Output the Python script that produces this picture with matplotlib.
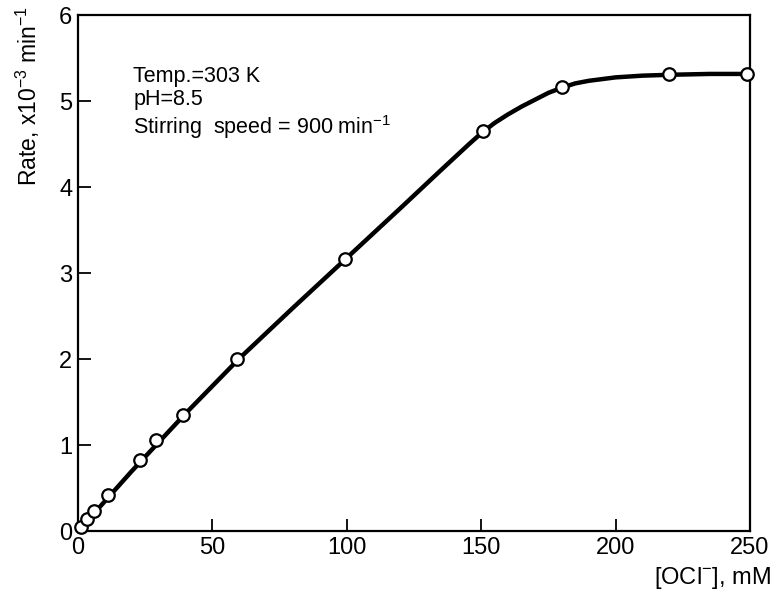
import matplotlib.pyplot as plt

plt.rcParams['font.family'] = ['Liberation Sans', 'DejaVu Sans']
plt.rcParams['mathtext.fontset'] = 'custom'
plt.rcParams['mathtext.rm'] = 'Liberation Sans'

# measured points
conc = [1, 3.5, 6, 11, 23, 29, 39, 59, 99.5, 150.5, 180, 220, 249]
rate = [0.05, 0.14, 0.24, 0.42, 0.83, 1.06, 1.35, 2.0, 3.17, 4.66, 5.17, 5.32, 5.32]

# drawn smooth curve
curve_x = [0, 20, 40, 60, 80, 100, 120, 135, 145, 150, 155, 160, 165, 170, 175,
           180, 185, 190, 200, 210, 220, 235, 250]
curve_y = [0, 0.70, 1.37, 2.01, 2.60, 3.18, 3.76, 4.20, 4.49, 4.63, 4.75, 4.85,
           4.94, 5.02, 5.10, 5.16, 5.21, 5.24, 5.28, 5.30, 5.31, 5.32, 5.32]

fig = plt.figure(figsize=(7.76, 5.95), dpi=100)
ax = fig.add_axes([0.1005, 0.107, 0.866, 0.867])

ax.plot(curve_x, curve_y, color="black", linewidth=3.2, solid_capstyle="butt",
        zorder=2)
ax.plot(conc, rate, linestyle="none", marker="o", markersize=9,
        markerfacecolor="white", markeredgecolor="black", markeredgewidth=1.6,
        zorder=3, clip_on=False)

ax.set_xlim(0, 250)
ax.set_ylim(0, 6)
ax.set_xticks([0, 50, 100, 150, 200, 250])
ax.set_yticks([0, 1, 2, 3, 4, 5, 6])
ax.tick_params(direction="in", length=9, width=1.3, labelsize=17, pad=4,
               top=False, right=False)
for s in ax.spines.values():
    s.set_linewidth(1.6)

ax.set_xlabel("[OCl$^{-}$], mM", fontsize=17)
ax.xaxis.set_label_coords(1.031, -0.065)
ax.xaxis.label.set_horizontalalignment("right")

# y label sits at the top-left, above the tick labels
fig.text(28 / 776, 1 - 6 / 595, "Rate, x10$^{-3}$ min$^{-1}$", fontsize=16.5,
         rotation=90, ha="center", va="top")

ax.text(0.082, 0.903, "Temp.=303 K\npH=8.5\nStirring  speed = 900 min$^{-1}$",
        transform=ax.transAxes, fontsize=15.5, va="top", ha="left",
        linespacing=1.15)

plt.savefig("out.png", dpi=100)
